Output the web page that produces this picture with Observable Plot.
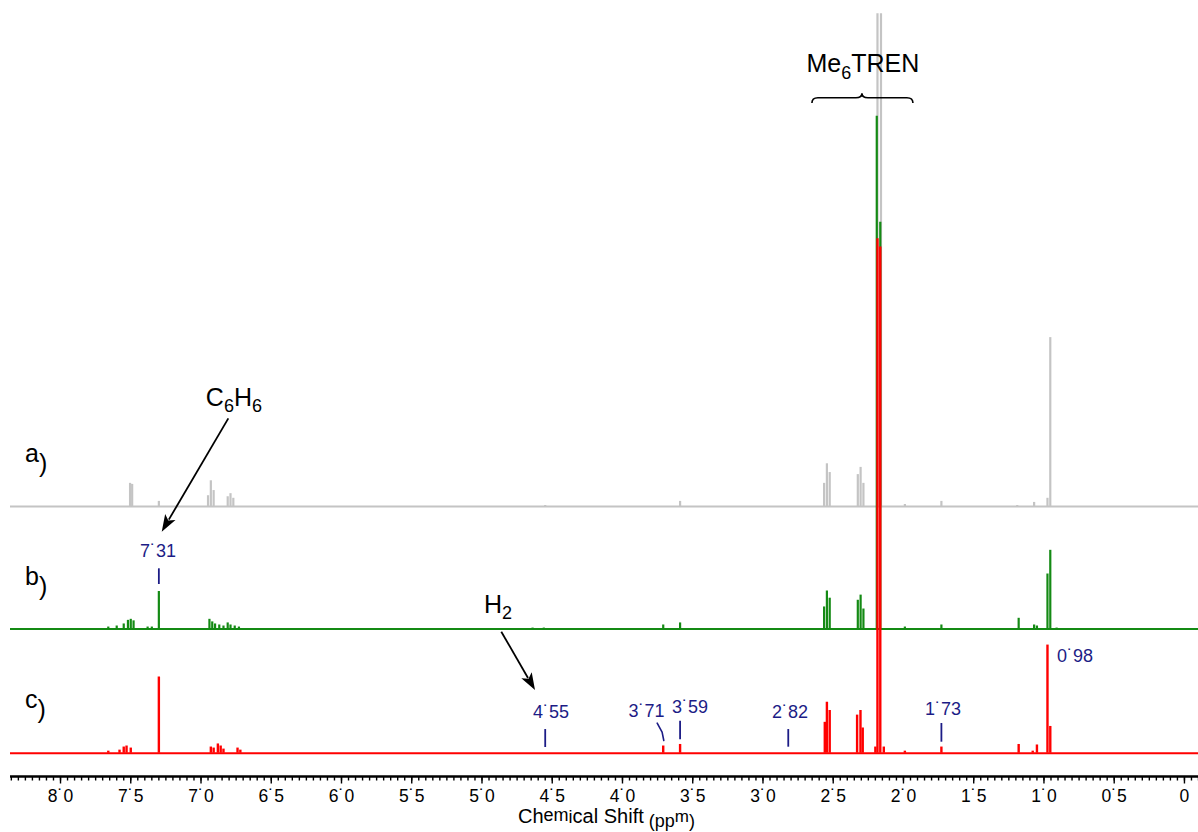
<!DOCTYPE html>
<html>
<head>
<meta charset="utf-8">
<script src="https://cdn.jsdelivr.net/npm/d3@7"></script>
<script src="https://cdn.jsdelivr.net/npm/@observablehq/plot@0.6"></script>
<style>
  html, body { margin: 0; padding: 0; background: #fff; }
  #chart svg { display: block; }
</style>
</head>
<body>
<div id="chart"></div>
<script>
const FONT = "'Liberation Sans', Arial, Helvetica, sans-serif";

// ---------- spectrum a) (grey) : peak positions (ppm) and relative intensities ----------
const aPpm = [7.505, 7.49, 7.30, 6.95, 6.93, 6.91, 6.81, 6.79, 6.77, 4.55, 3.59,
              2.565, 2.545, 2.525, 2.325, 2.305, 2.285, 2.185, 2.16, 1.99, 1.73, 1.19, 1.07, 0.975, 0.955];
const aInt = [4.5, 4.3, 1.0, 2.1, 5.0, 3.1, 1.9, 2.5, 1.6, 0.2, 1.0,
              4.5, 8.3, 6.6, 6.2, 7.6, 4.5, 95.7, 95.7, 0.4, 1.0, 0.2, 0.8, 1.6, 32.8];

// ---------- spectrum b) (green) ----------
const bPpm = [7.66, 7.60, 7.55, 7.52, 7.50, 7.48, 7.38, 7.35, 7.30, 6.94, 6.92, 6.90, 6.87, 6.84,
              6.81, 6.79, 6.76, 6.73, 4.64, 4.56, 3.71, 3.59, 2.565, 2.545, 2.525, 2.325, 2.305, 2.285,
              2.19, 2.165, 1.99, 1.73, 1.18, 1.07, 1.05, 0.975, 0.955, 0.91];
const bInt = [0.4, 0.6, 1.0, 1.7, 1.9, 1.6, 0.4, 0.4, 7.3, 1.9, 1.4, 1.0, 0.8, 0.6,
              1.2, 0.8, 0.6, 0.4, 0.2, 0.2, 0.8, 1.2, 4.3, 7.4, 6.0, 5.6, 6.6, 3.9,
              99.6, 79.0, 0.4, 0.8, 2.1, 0.8, 0.6, 10.7, 15.3, 0.2];

// ---------- spectrum c) (red) ----------
const cPpm = [7.66, 7.58, 7.55, 7.53, 7.50, 7.30, 6.93, 6.91, 6.88, 6.86, 6.84, 6.74, 6.72,
              3.71, 3.59, 2.56, 2.545, 2.525, 2.33, 2.306, 2.29, 2.20, 2.185, 2.165, 2.14,
              1.99, 1.73, 1.18, 1.08, 1.05, 0.975, 0.955];
const cInt = [0.4, 0.6, 1.2, 1.4, 1.0, 14.8, 1.2, 1.0, 1.8, 1.4, 0.8, 1.0, 0.6,
              1.4, 1.7, 6.0, 9.9, 8.3, 7.4, 8.3, 4.9, 1.2, 99.9, 98.3, 1.2,
              0.4, 1.2, 1.7, 0.4, 1.6, 21.0, 5.2];

// ---------- series ----------
const seriesNames  = ["a", "b", "c"];
const seriesColors = ["#c4c4c4", "#148a14", "#ff0000"];
const seriesOffset = [47.9, 24.1, 0];     // vertical stacking of the three traces

// ---------- axis ----------
const majorTicks = [8, 7.5, 7, 6.5, 6, 5.5, 5, 4.5, 4, 3.5, 3, 2.5, 2, 1.5, 1, 0.5, 0];
const majorTickLabels = ["8˙0","7˙5","7˙0","6˙5","6˙0","5˙5","5˙0","4˙5","4˙0","3˙5","3˙0","2˙5","2˙0","1˙5","1˙0","0˙5","0"];
const minorTicks = d3.range(-2, 168).map(i => +(i * 0.05).toFixed(2));
const xDomain = [8.356, -0.1];
const yDomain = [-4.52, 146.16];

// ---------- peak annotations ----------
const peakLabels    = ["7˙31", "4˙55", "3˙71", "3˙59", "2˙82", "1˙73", "0˙98"];
const peakLabelPpm  = [7.303, 4.505, 3.826, 3.516, 2.804, 1.715, 0.776];
const peakLabelY    = [38.06, 6.68, 6.99, 7.65, 6.68, 7.32, 17.67];
const peakTickPpm   = [7.30, 4.55, 3.59, 2.82, 1.73];
const peakTickY1    = [32.76, 1.11, 2.60, 1.17, 2.14];
const peakTickY2    = [35.81, 4.60, 6.21, 4.60, 5.77];
const bentTickPpm   = [3.753, 3.718, 3.706];
const bentTickY     = [5.83, 4.08, 2.47];

// ---------- compound annotations ----------
const seriesLabelPpm = 8.249;
const seriesLabelY   = [56.5, 32.56, 8.6];
const compoundText   = [[["C"], ["6", 6, 18], ["H", 0], ["6", 6, 18]],
                        [["H"], ["2", 6, 18]],
                        [["Me"], ["6", 7, 18], ["TREN", 0]]];
const compoundPpm    = [6.762, 4.883, 2.285];
const compoundY      = [67.32, 27.07, 132.17];
const arrowFrom      = [[6.802, 64.93], [4.859, 23.50]];
const arrowTo        = [[7.276, 42.91], [4.619, 12.17]];
const bracePpm       = [2.648, 2.292, 1.929];
const braceY         = [126.16, 127.18, 128.04];
const axisTitle      = [["Ch"], ["em", -2, 18], ["i", 0, 18], ["cal", 0], [" Shift", 0], [" (pp", 4, 18], ["m", -1, 17], [")", 4, 18]];
const axisTitlePpm   = 4.74;
const axisTitleY     = -13.71;

const tables = [aPpm, bPpm, cPpm].map((p, s) =>
  p.map((ppm, i) => ({ppm, int: [aInt, bInt, cInt][s][i], s})));

function richText(g, parts, X, Y, anchor, size, fill) {
  const t = g.append("text").attr("x", X).attr("y", Y)
    .attr("text-anchor", anchor).attr("font-size", size).attr("fill", fill);
  let cur = 0;
  for (const [str, shift = 0, sz] of parts) {
    t.append("tspan").attr("dy", shift - cur).attr("font-size", sz || size).text(str);
    cur = shift;
  }
}

function drawArrow(g, x1, y1, x2, y2) {
  const a = Math.atan2(y2 - y1, x2 - x1), L = 17, W = 6;
  const bx = x2 - L * Math.cos(a), by = y2 - L * Math.sin(a);
  const nx = Math.sin(a) * W, ny = -Math.cos(a) * W;
  g.append("line").attr("x1", x1).attr("y1", y1).attr("x2", bx + 3 * Math.cos(a)).attr("y2", by + 3 * Math.sin(a))
    .attr("stroke", "#000").attr("stroke-width", 1.8);
  g.append("path")
    .attr("d", `M${x2},${y2}L${bx + nx},${by + ny}L${bx + 4 * Math.cos(a)},${by + 4 * Math.sin(a)}L${bx - nx},${by - ny}Z`)
    .attr("fill", "#000");
}

function annotations(index, scales) {
  const {x, y} = scales;
  const g = d3.create("svg:g").attr("font-family", FONT);
  seriesNames.forEach((n, i) =>
    richText(g, [[n], [")", 10]], x(seriesLabelPpm), y(seriesLabelY[i]), "start", 25, "#000"));
  compoundText.forEach((parts, i) =>
    richText(g, parts, x(compoundPpm[i]), y(compoundY[i]), "middle", 25, "#000"));
  arrowFrom.forEach((f, i) => drawArrow(g, x(f[0]), y(f[1]), x(arrowTo[i][0]), y(arrowTo[i][1])));
  const X1 = x(bracePpm[0]), M = x(bracePpm[1]), X2 = x(bracePpm[2]);
  const Ye = y(braceY[0]), Ym = y(braceY[1]), Yt = y(braceY[2]), r = 6;
  g.append("path")
    .attr("d", `M${X1},${Ye}Q${X1},${Ym} ${X1 + r},${Ym}L${M - r},${Ym}Q${M},${Ym} ${M},${Yt}` +
               `Q${M},${Ym} ${M + r},${Ym}L${X2 - r},${Ym}Q${X2},${Ym} ${X2},${Ye}`)
    .attr("fill", "none").attr("stroke", "#000").attr("stroke-width", 1.6);
  peakLabels.forEach((t, i) =>
    g.append("text").attr("x", x(peakLabelPpm[i])).attr("y", y(peakLabelY[i]))
      .attr("text-anchor", "middle").attr("font-size", 18).attr("fill", "#1c1c86").text(t));
  richText(g, axisTitle, x(axisTitlePpm), y(axisTitleY), "start", 20, "#000");
  return g.node();
}

const marks = [];
tables.forEach((rows, s) => {
  marks.push(Plot.ruleY([seriesOffset[s]], {x1: xDomain[0], x2: xDomain[1], stroke: seriesColors[s], strokeWidth: 2}));
  marks.push(Plot.ruleX(rows, {x: "ppm", y1: seriesOffset[s], y2: d => seriesOffset[s] + d.int,
                               stroke: seriesColors[s], strokeWidth: s === 2 ? 2.4 : 2.2}));
});
marks.push(Plot.ruleX(peakTickPpm, {x: d => d, y1: (d, i) => peakTickY1[i], y2: (d, i) => peakTickY2[i],
                                    stroke: "#1c1c86", strokeWidth: 1.8}));
marks.push(Plot.line(bentTickPpm.map((p, i) => ({p, v: bentTickY[i]})), {x: "p", y: "v", stroke: "#1c1c86", strokeWidth: 1.6}));
marks.push(Plot.ruleY([yDomain[0]], {stroke: "#000", strokeWidth: 2.5}));
marks.push(Plot.ruleX(minorTicks, {x: d => d, y1: yDomain[0], y2: yDomain[0] - 4.5 / 5.15, stroke: "#000", strokeWidth: 1.4}));
marks.push(Plot.ruleX(majorTicks, {x: d => d, y1: yDomain[0], y2: yDomain[0] - 7.5 / 5.15, stroke: "#000", strokeWidth: 1.4}));
marks.push(annotations);

const chart = Plot.plot({
  width: 1198,
  height: 832,
  marginLeft: 10,
  marginRight: 0,
  marginTop: 0,
  marginBottom: 56,
  style: {background: "#fff", fontFamily: FONT, fontSize: "17.5px", color: "#000"},
  x: {
    domain: xDomain,
    ticks: majorTicks,
    tickSize: 0,
    tickPadding: 13,
    tickFormat: d => { const i = majorTicks.findIndex(t => Math.abs(t - d) < 1e-6); return i >= 0 ? majorTickLabels[i] : ""; },
    label: null
  },
  y: {domain: yDomain, axis: null},
  marks
});
document.getElementById("chart").appendChild(chart);
</script>
</body>
</html>
